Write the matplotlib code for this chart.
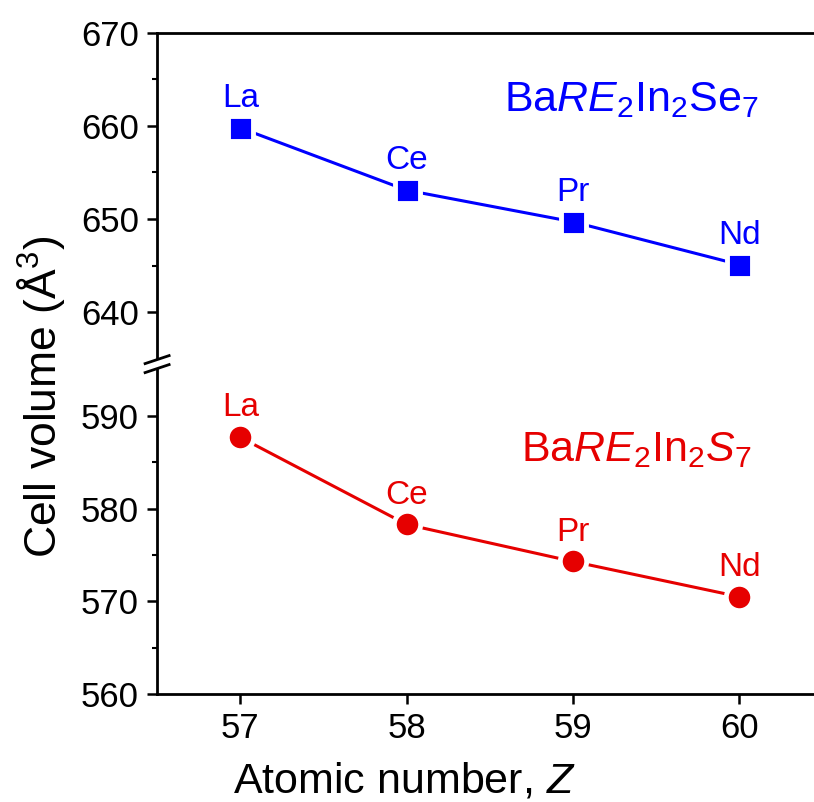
import matplotlib
matplotlib.use("Agg")
import matplotlib.pyplot as plt
from matplotlib.patches import Polygon
from matplotlib.lines import Line2D

plt.rcParams['font.family'] = ['Liberation Sans', 'DejaVu Sans']
plt.rcParams['mathtext.fontset'] = 'custom'
plt.rcParams['mathtext.rm'] = 'Liberation Sans'
plt.rcParams['mathtext.it'] = 'Liberation Sans:italic'

# Datos
z = [57, 58, 59, 60]
elementos = ["La", "Ce", "Pr", "Nd"]
vol_se = [659.8, 653.1, 649.7, 645.1]
vol_s = [587.7, 578.3, 574.3, 570.5]

azul = '#0000ff'
rojo = '#e60000'

fig = plt.figure(figsize=(8.14, 8.02), dpi=100)
left, right = 0.193, 1.0
y_bot, y_break, y_top = 0.1347, 0.546, 0.9589
ax_top = fig.add_axes([left, y_break, right - left, y_top - y_break])
ax_bot = fig.add_axes([left, y_bot, right - left, y_break - y_bot])

for ax in (ax_top, ax_bot):
    ax.set_xlim(56.5, 60.45)
    ax.spines['right'].set_visible(False)
    for s in ax.spines.values():
        s.set_linewidth(2)
    ax.tick_params(axis='both', which='major', direction='out', length=7, width=1.8,
                   labelsize=25, pad=6)
    ax.tick_params(axis='y', which='minor', direction='out', length=3.5, width=1.5)

ax_top.set_ylim(634.4, 670)
ax_top.set_yticks([640, 650, 660, 670])
ax_top.set_yticks([645, 655, 665], minor=True)
ax_top.spines['bottom'].set_visible(False)
ax_top.tick_params(axis='x', which='both', bottom=False, labelbottom=False)

ax_bot.set_ylim(560, 595.6)
ax_bot.set_yticks([560, 570, 580, 590])
ax_bot.set_yticks([565, 575, 585], minor=True)
ax_bot.spines['top'].set_visible(False)
ax_bot.set_xticks(z)

# Series
ax_top.plot(z, vol_se, color=azul, lw=2.2, zorder=2)
ax_top.plot(z, vol_se, ls='none', marker='s', ms=18, mfc=azul, mec='white', mew=3.5, zorder=3)
ax_bot.plot(z, vol_s, color=rojo, lw=2.2, zorder=2)
ax_bot.plot(z, vol_s, ls='none', marker='o', ms=19, mfc=rojo, mec='white', mew=3.5, zorder=3)

for xi, yi, el in zip(z, vol_se, elementos):
    ax_top.annotate(el, (xi, yi), xytext=(0, 10), textcoords='offset points',
                    ha='center', va='bottom', fontsize=24, color=azul)
for xi, yi, el in zip(z, vol_s, elementos):
    ax_bot.annotate(el, (xi, yi), xytext=(0, 10), textcoords='offset points',
                    ha='center', va='bottom', fontsize=24, color=rojo)

ax_top.text(59.35, 662.8, r'Ba$\mathit{RE}_{\mathrm{2}}$In$_{\mathrm{2}}$Se$_{\mathrm{7}}$',
            ha='center', va='center', fontsize=31, color=azul)
ax_bot.text(59.38, 586.3, r'Ba$\mathit{RE}_{\mathrm{2}}$In$_{\mathrm{2}}\mathit{S}_{\mathrm{7}}$',
            ha='center', va='center', fontsize=31, color=rojo)

ax_bot.set_xlabel(r'Atomic number, $\mathit{Z}$', fontsize=31)
ax_bot.xaxis.set_label_coords(0.377, -0.205)
fig.text(0.05, 1 - 397 / 802, r'Cell volume ($\mathrm{\AA}^{3}$)', rotation=90,
         ha='center', va='center', fontsize=32)

# Corte del eje
W, H = 814, 802
cx, cy = left, y_break
dx, dy = 12 / W, 4 / H
sep = 4.5 / H
fig.patches.append(Polygon([(cx - dx, cy - dy - sep), (cx + dx, cy + dy - sep),
                            (cx + dx, cy + dy + sep), (cx - dx, cy - dy + sep)],
                           closed=True, transform=fig.transFigure, fc='white', ec='none',
                           zorder=5))
for off in (-sep, sep):
    fig.lines.append(Line2D([cx - dx, cx + dx], [cy - dy + off, cy + dy + off],
                            transform=fig.transFigure, color='black', lw=2, zorder=6))

fig.savefig('out.png', dpi=100)
